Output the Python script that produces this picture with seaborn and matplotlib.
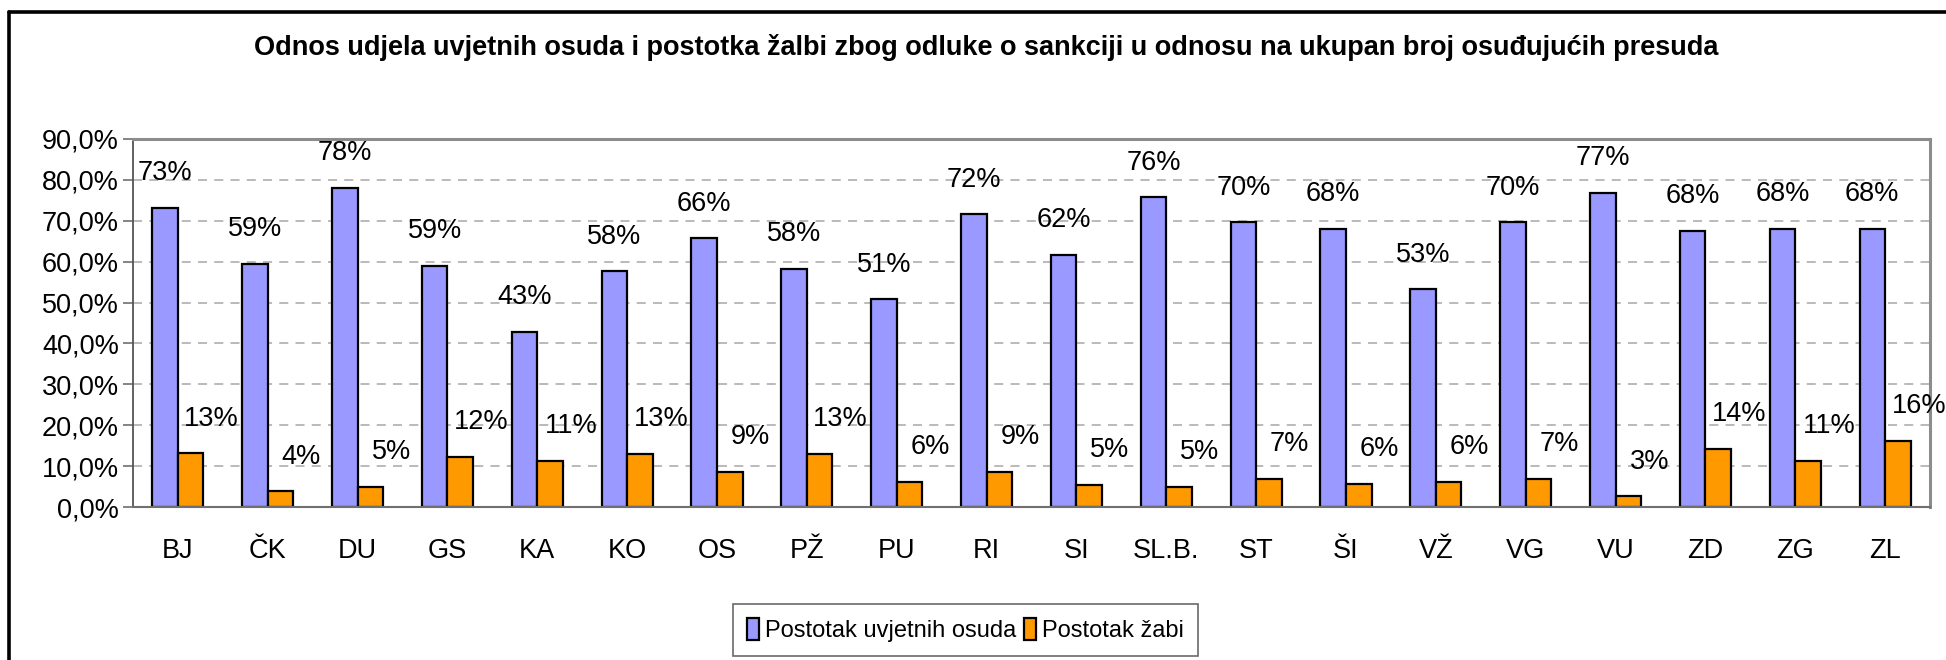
import matplotlib
matplotlib.use("Agg")
import matplotlib.pyplot as plt
from matplotlib.lines import Line2D
from matplotlib.ticker import FuncFormatter, FixedLocator
import numpy as np
import pandas as pd
import seaborn as sns

# Court codes and the two shares (in percent) for each court
courts = ["BJ", "ČK", "DU", "GS", "KA", "KO", "OS", "PŽ", "PU", "RI",
          "SI", "SL.B.", "ST", "ŠI", "VŽ", "VG", "VU", "ZD", "ZG", "ZL"]
uvjetne = [73.1, 59.4, 78.1, 58.9, 42.8, 57.6, 65.7, 58.3, 50.8, 71.6,
           61.6, 75.7, 69.6, 68.1, 53.2, 69.6, 76.9, 67.6, 68.1, 68.1]
zalbe = [13.1, 3.8, 5.0, 12.3, 11.2, 13.0, 8.6, 13.0, 6.2, 8.6,
         5.4, 5.0, 6.8, 5.6, 6.2, 6.9, 2.6, 14.3, 11.2, 16.1]
series_names = ["Postotak uvjetnih osuda", "Postotak žabi"]
colors = ["#9999FF", "#FF9900"]
title = ("Odnos udjela uvjetnih osuda i postotka žalbi zbog odluke o sankciji "
         "u odnosu na ukupan broj osuđujućih presuda")

df = pd.DataFrame({
    "court": courts * 2,
    "value": uvjetne + zalbe,
    "series": [series_names[0]] * len(courts) + [series_names[1]] * len(courts),
})

sns.set_theme(style="white")
plt.rcParams["font.family"] = ["Liberation Sans", "DejaVu Sans"]
plt.rcParams["text.color"] = "black"
plt.rcParams["xtick.labelcolor"] = "black"
plt.rcParams["ytick.labelcolor"] = "black"

fig = plt.figure(figsize=(19.46, 6.60), dpi=100)
ax = fig.add_axes([0.0683, 0.2318, 0.9235, 0.5576])

sns.barplot(data=df, x="court", y="value", hue="series", order=courts,
            hue_order=series_names, palette=colors, width=0.57, gap=0,
            edgecolor="black", linewidth=1.6, saturation=1, ax=ax,
            legend=True, err_kws={"linewidth": 0})

ax.set_ylim(0, 90)
ax.set_xlim(-0.5, len(courts) - 0.5)
ax.yaxis.set_major_locator(FixedLocator(np.arange(0, 91, 10)))
ax.yaxis.set_major_formatter(FuncFormatter(lambda v, p: f"{v:.1f}".replace(".", ",") + "%"))
ax.set_xlabel("")
ax.set_ylabel("")

# dashed horizontal grid
for yv in range(10, 90, 10):
    ax.axhline(yv, color="#b4b4b4", lw=1.3, ls=(0, (5, 4)), zorder=0)

# category boundaries carry the x tick marks
ax.set_xticks(np.arange(len(courts)))
ax.set_xticklabels(courts)
ax.set_xticks(np.arange(-0.5, len(courts), 1), minor=True)
ax.tick_params(axis="x", which="major", length=0, pad=22, labelsize=19.5, labelcolor="black")
ax.tick_params(axis="x", which="minor", length=7, width=1.2, color="#707070", direction="out")
ax.tick_params(axis="y", which="major", length=7, width=1.2, color="#707070",
               direction="out", labelsize=19.5, pad=3, left=True, labelcolor="black")

for side in ["top", "right"]:
    ax.spines[side].set_color("#8c8c8c")
    ax.spines[side].set_linewidth(2.2)
ax.spines["left"].set_color("#555555")
ax.spines["left"].set_linewidth(1.3)
ax.spines["bottom"].set_color("#707070")
ax.spines["bottom"].set_linewidth(1.5)

# value labels above the bars
for ci, (cont, vals) in enumerate(zip(ax.containers, [uvjetne, zalbe])):
    dx = 0 if ci == 0 else 15
    for bar, v in zip(cont, vals):
        x = bar.get_x() + bar.get_width() / 2
        ax.annotate(f"{v:.0f}%", xy=(x, v), xytext=(dx, 25), textcoords="offset points",
                    ha="center", va="center", fontsize=19.5, color="black",
                    annotation_clip=False)

ax.get_legend().remove()
handles = [plt.Rectangle((0, 0), 1, 1, facecolor=c, edgecolor="black", linewidth=1.6)
           for c in colors]
leg = fig.legend(handles, series_names, loc="center", bbox_to_anchor=(0.496, 0.045),
                 ncol=2, frameon=True, fancybox=False, fontsize=17,
                 handlelength=0.5, handleheight=1.0, handletextpad=0.25,
                 columnspacing=0.35, borderpad=0.6, borderaxespad=0)
leg.get_frame().set_edgecolor("#444444")
leg.get_frame().set_linewidth(1.2)
for t in leg.get_texts():
    t.set_color("black")

fig.text(0.507, 1 - 55 / 660, title, ha="center", va="baseline",
         fontsize=19.5, fontweight="bold", color="black")

# outer chart frame (top and left edges)
fig.add_artist(Line2D([9 / 1946, 1.0], [1 - 11.5 / 660, 1 - 11.5 / 660],
                      transform=fig.transFigure, color="black", lw=2.6))
fig.add_artist(Line2D([9 / 1946, 9 / 1946], [0.0, 1 - 11.5 / 660],
                      transform=fig.transFigure, color="black", lw=2.6))

fig.savefig("out.png", dpi=100, facecolor="white")
